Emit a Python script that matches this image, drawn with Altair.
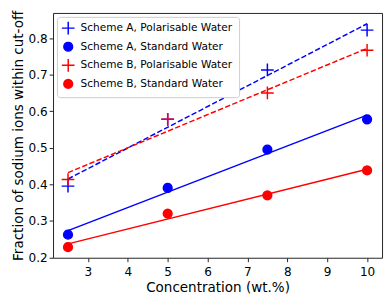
import altair as alt
import pandas as pd

# ---- data ----
conc = [2.5, 5.0, 7.5, 10.0]
a_pol = [0.395, 0.578, 0.713, 0.822]
a_std = [0.262, 0.390, 0.495, 0.578]
b_pol = [0.413, 0.578, 0.650, 0.767]
b_std = [0.228, 0.320, 0.370, 0.438]
series_names = [
    "Scheme A, Polarisable Water",
    "Scheme A, Standard Water",
    "Scheme B, Polarisable Water",
    "Scheme B, Standard Water",
]
kinds = ["pol", "std", "pol", "std"]
colors = ["#0000ff", "#0000ff", "#ff0000", "#ff0000"]
x_ticks = [3, 4, 5, 6, 7, 8, 9, 10]
y_ticks = [0.2, 0.3, 0.4, 0.5, 0.6, 0.7, 0.8]

rows = []
for name, vals, kind in zip(series_names, [a_pol, a_std, b_pol, b_std], kinds):
    for c, v in zip(conc, vals):
        rows.append({"conc": c, "frac": v, "series": name, "kind": kind})
df = pd.DataFrame(rows)

PLUS = "M-1.45,0H1.45M0,-1.45V1.45"
shapes = [PLUS, "circle", PLUS, "circle"]
FONT = "DejaVu Sans"

x = alt.X(
    "conc:Q",
    scale=alt.Scale(domain=[2.125, 10.375], nice=False, zero=False),
    axis=alt.Axis(values=x_ticks, format="d", title="Concentration (wt.%)",
                  labelPadding=4, titlePadding=3),
)
y = alt.Y(
    "frac:Q",
    scale=alt.Scale(domain=[0.199, 0.869], nice=False, zero=False),
    axis=alt.Axis(values=y_ticks, format=".1f", title="Fraction of sodium ions within cut-off"),
)
cscale = alt.Scale(domain=series_names, range=colors)

leg = alt.Legend(
    title=None,
    orient="top-left",
    offset=4,
    padding=6,
    fillColor="white",
    strokeColor="#cccccc",
    cornerRadius=3,
    labelFont=FONT,
    labelFontSize=10.8,
    labelColor="black",
    labelOffset=7,
    rowPadding=2,
    symbolSize=80,
    symbolStrokeWidth=1.5,
    symbolOpacity=1,
)

base = alt.Chart(df)

line_layers = []
for name, kind, col in zip(series_names, kinds, colors):
    mk = dict(strokeWidth=1.5, color=col)
    if kind == "pol":
        mk["strokeDash"] = [5.5, 2.4]
    line_layers.append(
        base.transform_filter(alt.datum.series == name)
        .transform_regression("conc", "frac", extent=[2.5, 10])
        .mark_line(**mk)
        .encode(x=x, y=y)
    )

points = base.mark_point(filled=True, size=80, strokeWidth=1.5, opacity=1).encode(
    x=x,
    y=y,
    color=alt.Color("series:N", scale=cscale, legend=leg),
    shape=alt.Shape("series:N", scale=alt.Scale(domain=series_names, range=shapes), legend=leg),
    stroke=alt.Stroke("series:N", scale=cscale, legend=None),
)

chart = (
    alt.layer(*line_layers, points)
    .properties(
        width=336,
        height=250,
        autosize=alt.AutoSizeParams(type="none"),
        padding={"left": 46, "top": 2, "right": 2, "bottom": 36},
    )
    .configure_view(stroke="#222222", strokeWidth=1)
    .configure_axis(
        domain=False,
        grid=False,
        ticks=True,
        tickSize=4,
        tickWidth=1,
        tickColor="#222222",
        labelFont=FONT,
        labelFontSize=12.3,
        labelColor="black",
        labelPadding=2,
        titleFont=FONT,
        titleFontSize=13.8,
        titleFontWeight="normal",
        titleColor="black",
        titlePadding=3,
    )
)

chart.save("out.html", embed_options={"renderer": "svg", "actions": False})
